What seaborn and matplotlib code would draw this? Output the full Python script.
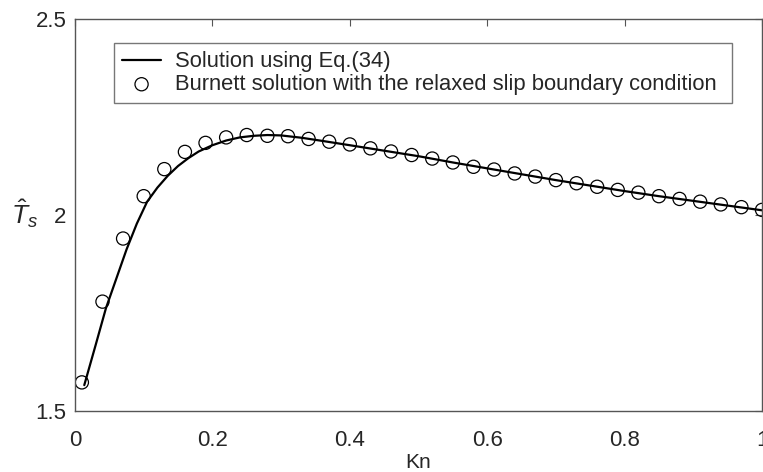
import matplotlib
matplotlib.use("Agg")
import matplotlib.pyplot as plt
import seaborn as sns
import pandas as pd

# Burnett solution points (circles)
kn_points = [0.01, 0.04, 0.07, 0.10, 0.13, 0.16, 0.19, 0.22, 0.25, 0.28, 0.31,
             0.34, 0.37, 0.40, 0.43, 0.46, 0.49, 0.52, 0.55, 0.58, 0.61, 0.64,
             0.67, 0.70, 0.73, 0.76, 0.79, 0.82, 0.85, 0.88, 0.91, 0.94, 0.97, 1.00]
ts_points = [1.573, 1.779, 1.940, 2.048, 2.117, 2.161, 2.184, 2.198, 2.204, 2.202, 2.201,
             2.194, 2.187, 2.180, 2.170, 2.162, 2.153, 2.144, 2.134, 2.123, 2.116, 2.106,
             2.098, 2.089, 2.081, 2.072, 2.064, 2.057, 2.048, 2.041, 2.034, 2.027, 2.020, 2.013]

# Solution using Eq.(34) (solid line)
kn_line = [0.0135, 0.03, 0.045, 0.06, 0.075, 0.09, 0.105, 0.12, 0.135, 0.15, 0.165,
           0.18, 0.20, 0.22, 0.24, 0.26, 0.28, 0.30, 0.33, 0.36, 0.40, 0.45, 0.50,
           0.55, 0.60, 0.65, 0.70, 0.75, 0.80, 0.85, 0.90, 0.95, 1.00]
ts_line = [1.566, 1.668, 1.762, 1.837, 1.912, 1.978, 2.034, 2.070, 2.100, 2.125, 2.145,
           2.162, 2.178, 2.190, 2.198, 2.202, 2.204, 2.203, 2.197, 2.189, 2.178, 2.164, 2.150,
           2.134, 2.119, 2.104, 2.089, 2.075, 2.061, 2.048, 2.036, 2.024, 2.012]

x_ticks = [0, 0.2, 0.4, 0.6, 0.8, 1]
x_tick_labels = ["0", "0.2", "0.4", "0.6", "0.8", "1"]
y_ticks = [1.5, 2, 2.5]
y_tick_labels = ["1.5", "2", "2.5"]

sns.set_style("white")
plt.rcParams['font.family'] = ['Liberation Sans', 'DejaVu Sans']
plt.rcParams['mathtext.fontset'] = 'custom'
plt.rcParams['mathtext.it'] = 'Liberation Sans:italic'
plt.rcParams['mathtext.rm'] = 'Liberation Sans'

fig = plt.figure(figsize=(7.63, 4.72), dpi=100)
ax = fig.add_axes([75/763, 61/472, 687/763, 392/472])

df_line = pd.DataFrame({"Kn": kn_line, "Ts": ts_line})
df_pts = pd.DataFrame({"Kn": kn_points, "Ts": ts_points})

sns.lineplot(data=df_line, x="Kn", y="Ts", ax=ax, color="black", linewidth=1.6,
             label="Solution using Eq.(34)")
sns.scatterplot(data=df_pts, x="Kn", y="Ts", ax=ax, marker="o", s=90,
                facecolor="none", edgecolor="black", linewidth=0.9,
                label="Burnett solution with the relaxed slip boundary condition")

ax.set_xlim(0, 1)
ax.set_ylim(1.5, 2.5)
ax.set_xticks(x_ticks)
ax.set_xticklabels(x_tick_labels)
ax.set_yticks(y_ticks)
ax.set_yticklabels(y_tick_labels)
ax.tick_params(direction="in", length=5, width=0.8, color="#555555",
               top=True, right=True, labelsize=16, pad=6)
ax.tick_params(axis="x", pad=14)
for sp in ax.spines.values():
    sp.set_visible(True)
    sp.set_color("#555555")
    sp.set_linewidth(1.0)

ax.set_xlabel("Kn", fontsize=15, labelpad=1)
ax.set_ylabel(r"$\hat{T}_s$", fontsize=19, rotation=0, ha="center", va="center")
ax.yaxis.set_label_coords(-0.074, 0.505)

leg = ax.legend(loc="upper left", bbox_to_anchor=(0.0568, 0.791, 0.899, 0.148),
                mode="expand", fontsize=15.8, frameon=True, fancybox=False,
                borderaxespad=0, handlelength=1.75, handletextpad=0.65,
                labelspacing=0.08, borderpad=0.38)
leg.get_frame().set_edgecolor("#555555")
leg.get_frame().set_linewidth(1.0)

fig.savefig("out.png", dpi=100)
